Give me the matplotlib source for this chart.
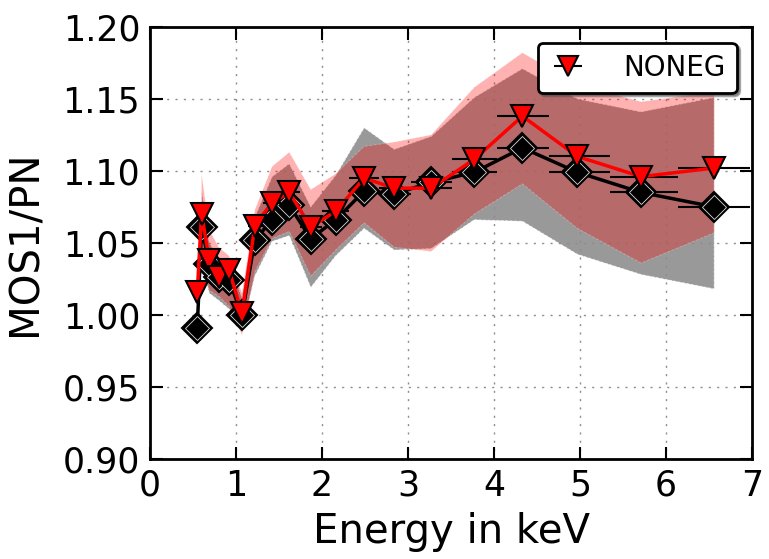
import matplotlib
matplotlib.use("Agg")
import matplotlib.pyplot as plt
import numpy as np

# ---- data ----
energy = [0.55, 0.60, 0.69, 0.80, 0.92, 1.07, 1.22, 1.42, 1.62, 1.87, 2.16,
          2.49, 2.84, 3.27, 3.77, 4.33, 4.97, 5.71, 6.56]
xerr_lo = [0.05, 0.025, 0.045, 0.055, 0.06, 0.075, 0.075, 0.10, 0.10, 0.125,
           0.16, 0.18, 0.18, 0.23, 0.26, 0.29, 0.33, 0.36, 0.42]
xerr_hi = [0.025, 0.045, 0.055, 0.06, 0.075, 0.075, 0.10, 0.10, 0.125, 0.13,
           0.15, 0.17, 0.20, 0.24, 0.27, 0.31, 0.38, 0.43, 0.41]

ratio_default = [0.991, 1.061, 1.035, 1.026, 1.024, 1.000, 1.052, 1.066,
                 1.076, 1.053, 1.066, 1.086, 1.084, 1.092, 1.099, 1.116,
                 1.099, 1.085, 1.075]
ratio_noneg = [1.016, 1.070, 1.038, 1.026, 1.031, 1.001, 1.062, 1.078,
               1.085, 1.061, 1.072, 1.095, 1.088, 1.088, 1.108, 1.138,
               1.110, 1.096, 1.102]

# uncertainty bands (start at second point)
band_x = energy[1:]
default_upper = [1.087, 1.050, 1.040, 1.036, 1.012, 1.068, 1.096, 1.105,
                 1.075, 1.097, 1.130, 1.115, 1.124, 1.151, 1.171, 1.150,
                 1.141, 1.151]
default_lower = [1.035, 1.015, 1.010, 1.004, 0.989, 1.027, 1.051, 1.055,
                 1.019, 1.041, 1.060, 1.045, 1.046, 1.066, 1.065, 1.042,
                 1.028, 1.018]
noneg_upper = [1.098, 1.059, 1.047, 1.041, 1.015, 1.073, 1.103, 1.113,
               1.087, 1.098, 1.117, 1.120, 1.125, 1.158, 1.182, 1.160,
               1.148, 1.155]
noneg_lower = [1.040, 1.017, 1.013, 1.006, 0.986, 1.030, 1.053, 1.058,
               1.027, 1.045, 1.064, 1.047, 1.044, 1.070, 1.091, 1.060,
               1.036, 1.057]

legend_label = "NONEG"
xlabel = "Energy in keV"
ylabel = "MOS1/PN"

# ---- figure ----
fig = plt.figure(figsize=(7.69, 5.59), dpi=100)
ax = fig.add_axes([0.195, 0.179, 0.783, 0.773])

ax.fill_between(band_x, default_lower, default_upper, facecolor="gray",
                alpha=0.8, edgecolor="white", linestyle="--", linewidth=0.6,
                zorder=1)
ax.fill_between(band_x, noneg_lower, noneg_upper, facecolor="red",
                alpha=0.3, edgecolor="white", linestyle="--", linewidth=0.6,
                zorder=2)

xerr = [xerr_lo, xerr_hi]

# default series (black diamonds)
ax.errorbar(energy, ratio_default, xerr=xerr, fmt="none", ecolor="black",
            elinewidth=1.5, zorder=3)
ax.plot(energy, ratio_default, color="black", lw=2.5, zorder=4)
ax.plot(energy, ratio_default, linestyle="none", marker="D", ms=15,
        mfc="black", mec="black", mew=1.5, zorder=5)
ax.plot(energy, ratio_default, linestyle="none", marker="D", ms=12,
        mfc="black", mec="0.85", mew=0.6, zorder=5)

# NONEG series (red triangles)
ax.errorbar(energy, ratio_noneg, xerr=xerr, fmt="none", ecolor="black",
            elinewidth=1.5, zorder=6)
ax.plot(energy, ratio_noneg, color="red", lw=2.5, zorder=7)
ax.plot(energy, ratio_noneg, linestyle="none", marker="v", ms=16,
        mfc="red", mec="black", mew=1.5, zorder=8)

# legend proxy
handle = ax.errorbar([], [], xerr=[], fmt="v", color="red", ms=14, mfc="red",
                     mec="black", mew=1.5, ecolor="black", elinewidth=1.5,
                     label=legend_label)
leg = ax.legend(handles=[handle], loc="upper right", numpoints=1,
                fancybox=True, shadow=True, fontsize=20, borderpad=0.4,
                handlelength=1.4, handletextpad=1.3,
                bbox_to_anchor=(0.998, 0.995))
leg.get_frame().set_linewidth(2)
leg.get_frame().set_edgecolor("black")
leg.set_zorder(20)

ax.set_xlim(0, 7)
ax.set_ylim(0.90, 1.20)
ax.set_xticks(range(0, 8))
ax.set_yticks(np.arange(0.90, 1.2001, 0.05))
ax.yaxis.set_major_formatter(matplotlib.ticker.FormatStrFormatter("%.2f"))

ax.grid(True, color="0.55", linestyle=(0, (1.5, 4.5)), linewidth=1.0)
for gl in ax.get_xgridlines() + ax.get_ygridlines():
    gl.set_zorder(2.5)

ax.tick_params(direction="in", top=True, right=True, length=9, width=1.5,
               labelsize=25, pad=7)
for s in ax.spines.values():
    s.set_linewidth(2)

ax.set_xlabel(xlabel, fontsize=29, labelpad=7)
ax.set_ylabel(ylabel, fontsize=29, labelpad=12)

fig.savefig("out.png", dpi=100)
